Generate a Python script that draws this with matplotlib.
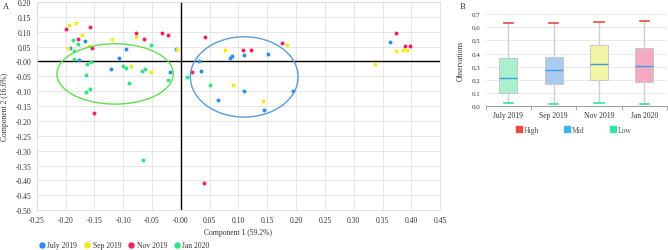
import numpy as np
import matplotlib
matplotlib.use("Agg")
import matplotlib.pyplot as plt
from matplotlib.patches import Ellipse
from matplotlib.lines import Line2D

plt.rcParams['font.family'] = ['Liberation Serif', 'DejaVu Serif']

# === Panel A: PCA scores (Component 1, Component 2) ===
jul_x = [-0.192, -0.166, -0.177, -0.122, -0.108, -0.096, -0.018, -0.008, 0.031, 0.035,
         0.065, 0.086, 0.089, 0.110, 0.110, 0.151, 0.194, 0.145, 0.363]
jul_y = [0.044, 0.068, 0.005, -0.027, 0.010, 0.041, -0.034, 0.041, 0.003, -0.033,
         -0.128, 0.011, 0.020, 0.023, -0.101, 0.025, -0.099, -0.164, 0.064]

sep_x = [-0.194, -0.182, -0.172, -0.195, -0.159, -0.119, -0.087, -0.077, -0.052, -0.006,
         0.077, 0.090, 0.184, 0.143, 0.337, 0.374, 0.386, 0.392]
sep_y = [0.124, 0.131, 0.090, 0.046, 0.052, 0.074, -0.014, 0.081, -0.036, 0.043,
         0.037, -0.079, 0.054, -0.132, -0.009, 0.034, 0.039, 0.039]

nov_x = [-0.199, -0.157, -0.179, -0.154, -0.150, -0.078, -0.064, -0.032, -0.023, 0.020,
         0.042, 0.108, 0.121, 0.176, 0.373, 0.389, 0.397, 0.040]
nov_y = [0.110, 0.117, 0.077, 0.045, -0.175, 0.095, 0.074, 0.095, 0.089, -0.036,
         0.083, 0.038, 0.038, 0.063, 0.097, 0.052, 0.052, -0.408]

jan_x = [-0.187, -0.179, -0.185, -0.185, -0.162, -0.156, -0.165, -0.157, -0.165, -0.101,
         -0.095, -0.090, -0.068, -0.062, -0.051, -0.022, 0.010, 0.050, -0.066]
jan_y = [0.073, 0.059, 0.036, 0.007, -0.007, -0.003, -0.047, -0.091, -0.104, -0.016,
         -0.021, -0.074, -0.033, -0.027, 0.054, -0.061, -0.053, -0.079, -0.331]

series_labels = ["July 2019", "Sep 2019", "Nov 2019", "Jan 2020"]
series_colors = ["#2a8ef0", "#f2ec0a", "#ee2163", "#2fe57f"]

# clusters (center x, center y, width, height)
green_ell = (-0.114, -0.042, 0.202, 0.203)
blue_ell = (0.110, -0.052, 0.187, 0.270)

# === Panel B: box plot summaries ===
months = ["July 2019", "Sep 2019", "Nov 2019", "Jan 2020"]
whislo = [0.023, 0.015, 0.023, 0.020]
q1 = [0.103, 0.171, 0.197, 0.186]
med = [0.212, 0.273, 0.318, 0.303]
q3 = [0.364, 0.373, 0.464, 0.439]
whishi = [0.629, 0.629, 0.636, 0.648]
box_fill = ["#a9f0cf", "#a9cbf2", "#f4f4a6", "#f5a9c3"]

fig = plt.figure(figsize=(6.68, 2.51), dpi=100)

# ---- A ----
ax = fig.add_axes([0.055, 0.159, 0.604, 0.829])
for xs, ys, c, lab in zip([jul_x, sep_x, nov_x, jan_x], [jul_y, sep_y, nov_y, jan_y],
                          series_colors, series_labels):
    ax.scatter(xs, ys, s=8, color=c, label=lab, zorder=3, linewidths=0)

ax.add_patch(Ellipse(green_ell[:2], green_ell[2], green_ell[3], angle=-3,
                     fill=False, edgecolor="#63dd4f", lw=1.0, zorder=4))
ax.add_patch(Ellipse(blue_ell[:2], blue_ell[2], blue_ell[3], fill=False,
                     edgecolor="#5b9bd5", lw=1.0, zorder=4))

ax.axhline(0, color="black", lw=1.0, zorder=2)
ax.axvline(0, color="black", lw=1.0, zorder=2)
ax.set_xlim(-0.25, 0.45)
ax.set_ylim(-0.50, 0.20)
ax.set_xticks(np.arange(-0.25, 0.451, 0.05))
ax.set_yticks(np.arange(-0.50, 0.201, 0.05))
ax.xaxis.set_major_formatter(plt.FormatStrFormatter("%.2f"))
ax.yaxis.set_major_formatter(plt.FormatStrFormatter("%.2f"))
ax.tick_params(length=0, labelsize=5.5, colors="#333333", pad=4)
ax.grid(True, color="#e3e3e3", lw=0.6, zorder=0)
ax.set_axisbelow(True)
for s in ax.spines.values():
    s.set_color("#dddddd")
    s.set_linewidth(0.6)
ax.set_xlabel("Component 1 (59.2%)", fontsize=5.5, color="#333333", labelpad=3)
fig.text(0.008, 0.574, "Component 2 (16.6%)", rotation=90, fontsize=5.5,
         color="#333333", va="center", ha="center")

handles = [Line2D([], [], marker="o", ls="", color=c, markersize=3.6) for c in series_colors]
fig.legend(handles, series_labels, loc="center left", bbox_to_anchor=(0.048, 0.018),
           ncol=4, frameon=False, fontsize=5.5, handlelength=0.8, handletextpad=0.3,
           columnspacing=0.9, labelcolor="#333333")

fig.text(0.004, 0.99, "A", fontsize=6, va="top", color="#333333")
fig.text(0.688, 0.99, "B", fontsize=6, va="top", color="#333333")

# ---- B ----
bx = fig.add_axes([0.727, 0.5725, 0.2715, 0.3677])
stats = []
for i in range(len(months)):
    stats.append(dict(label=months[i], whislo=whislo[i], q1=q1[i], med=med[i],
                      q3=q3[i], whishi=whishi[i], fliers=[]))
bp = bx.bxp(stats, positions=range(len(months)), widths=0.4, patch_artist=True,
            showfliers=False, capwidths=0.2,
            medianprops=dict(color="#3aa0e8", lw=1.0),
            whiskerprops=dict(color="#cfcfcf", lw=1.0),
            capprops=dict(lw=1.2))
for patch, fc in zip(bp["boxes"], box_fill):
    patch.set_facecolor(fc)
    patch.set_edgecolor("#c8c8c8")
    patch.set_linewidth(0.7)
for i, cap in enumerate(bp["caps"]):
    cap.set_color("#2ee89a" if i % 2 == 0 else "#e74c3c")

bx.set_xlim(-0.5, len(months) - 0.5)
bx.set_ylim(0, 0.7)
bx.set_yticks(np.arange(0, 0.71, 0.1))
bx.yaxis.set_major_formatter(plt.FormatStrFormatter("%.1f"))
bx.set_xticks(range(len(months)))
bx.set_xticklabels(months)
bx.set_xticks(np.arange(-0.5, len(months), 1.0), minor=True)
bx.tick_params(axis="both", which="major", length=0, labelsize=5.5, colors="#333333")
bx.tick_params(axis="y", labelsize=5)
bx.tick_params(axis="x", which="minor", length=3, color="#999999")
bx.grid(True, axis="y", color="#e6e6e6", lw=0.6)
bx.set_axisbelow(True)
for k in ["top", "right", "left"]:
    bx.spines[k].set_visible(False)
bx.spines["bottom"].set_color("#999999")
bx.spines["bottom"].set_linewidth(0.7)
bx.set_ylabel("Observations", fontsize=5.5, color="#333333", labelpad=5)

sq_colors = ["#e74c3c", "#3ab4f2", "#2ee8a0"]
sq_handles = [Line2D([], [], marker="s", ls="", color=c, markersize=4) for c in sq_colors]
fig.legend(sq_handles, ["High", "Mid", "Low"], loc="center left",
           bbox_to_anchor=(0.762, 0.478), ncol=3, frameon=False, fontsize=5.5,
           handlelength=0.8, handletextpad=0.2, columnspacing=3.3, labelcolor="#555555")

fig.savefig("out.png", dpi=100)
